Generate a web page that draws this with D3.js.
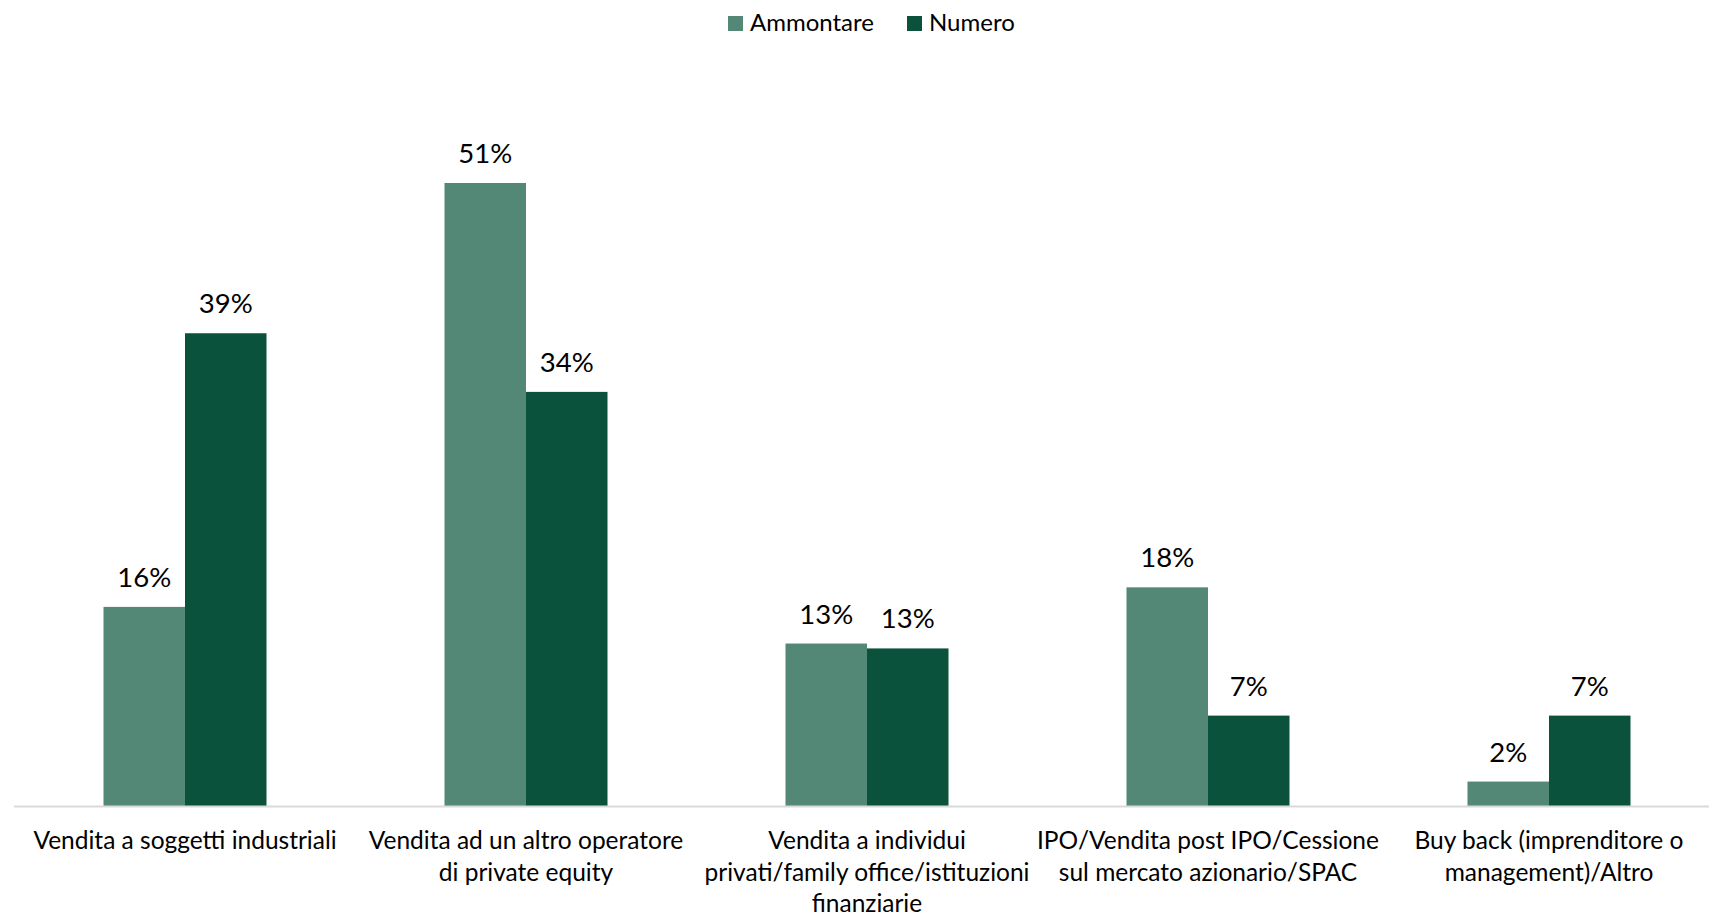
<!DOCTYPE html>
<html>
<head>
<meta charset="utf-8">
<script src="https://d3js.org/d3.v7.min.js"></script>
<style>
  body { margin: 0; background: #fff; }
  text { font-family: Lato, "Noto Sans", sans-serif; fill: #000; }
</style>
</head>
<body>
<div id="chart"></div>
<script>
var width = 1709;
var height = 920;

// data
var categories = [
  "Vendita a soggetti industriali",
  "Vendita ad un altro operatore\ndi private equity",
  "Vendita a individui\nprivati/family office/istituzioni\nfinanziarie",
  "IPO/Vendita post IPO/Cessione\nsul mercato azionario/SPAC",
  "Buy back (imprenditore o\nmanagement)/Altro"
];
var seriesNames = ["Ammontare", "Numero"];
var ammontare = [16.3, 51.0, 13.3, 17.9, 2.0];
var numero = [38.7, 33.9, 12.9, 7.4, 7.4];
var ammontareLabels = ["16%", "51%", "13%", "18%", "2%"];
var numeroLabels = ["39%", "34%", "13%", "7%", "7%"];
var colors = ["#538776", "#0b523c"];

var rows = categories.map(function (c, i) {
  return {
    cat: c,
    values: [
      { key: seriesNames[0], value: ammontare[i], label: ammontareLabels[i] },
      { key: seriesNames[1], value: numero[i], label: numeroLabels[i] }
    ]
  };
});

var svg = d3.select("#chart")
  .append("svg")
  .attr("width", width)
  .attr("height", height);

var baseline = 806;

var x0 = d3.scaleBand()
  .domain(categories)
  .range([14.5, 1719.5])
  .paddingInner(0.522)
  .paddingOuter(0.261);

var x1 = d3.scaleBand()
  .domain(seriesNames)
  .range([0, x0.bandwidth()]);

var y = d3.scaleLinear()
  .domain([0, 60])
  .range([baseline, baseline - 60 * 623 / 51]);

var color = d3.scaleOrdinal().domain(seriesNames).range(colors);

// bars
var groups = svg.append("g")
  .selectAll("g")
  .data(rows)
  .enter().append("g")
  .attr("transform", function (d) { return "translate(" + x0(d.cat) + ",0)"; });

groups.selectAll("rect")
  .data(function (d) { return d.values; })
  .enter().append("rect")
  .attr("x", function (d) { return x1(d.key); })
  .attr("y", function (d) { return y(d.value); })
  .attr("width", x1.bandwidth())
  .attr("height", function (d) { return baseline - y(d.value); })
  .attr("fill", function (d) { return color(d.key); });

groups.selectAll("text.val")
  .data(function (d) { return d.values; })
  .enter().append("text")
  .attr("class", "val")
  .attr("x", function (d) { return x1(d.key) + x1.bandwidth() / 2; })
  .attr("y", function (d) { return y(d.value) - 20; })
  .attr("text-anchor", "middle")
  .style("font-size", "27.5px")
  .text(function (d) { return d.label; });

// axis line
svg.append("line")
  .attr("x1", 14)
  .attr("x2", width)
  .attr("y1", baseline + 0.5)
  .attr("y2", baseline + 0.5)
  .attr("stroke", "#d9d9d9")
  .attr("stroke-width", 2);

// category labels
var catLabels = svg.append("g")
  .selectAll("text")
  .data(categories)
  .enter().append("text")
  .attr("x", function (d) { return x0(d) + x0.bandwidth() / 2; })
  .attr("y", 849)
  .attr("text-anchor", "middle")
  .style("font-size", "24.5px");

catLabels.selectAll("tspan")
  .data(function (d) { return d.split("\n"); })
  .enter().append("tspan")
  .attr("x", function () { return d3.select(this.parentNode).attr("x"); })
  .attr("dy", function (d, i) { return i === 0 ? 0 : 31.5; })
  .text(function (d) { return d; });

// legend
var legendX = [728, 907];
var legend = svg.append("g")
  .selectAll("g")
  .data(seriesNames)
  .enter().append("g")
  .attr("transform", function (d, i) { return "translate(" + legendX[i] + ",16)"; });

legend.append("rect")
  .attr("width", 15)
  .attr("height", 15)
  .attr("fill", function (d) { return color(d); });

legend.append("text")
  .attr("x", 22)
  .attr("y", 15)
  .style("font-size", "24px")
  .text(function (d) { return d; });
</script>
</body>
</html>
